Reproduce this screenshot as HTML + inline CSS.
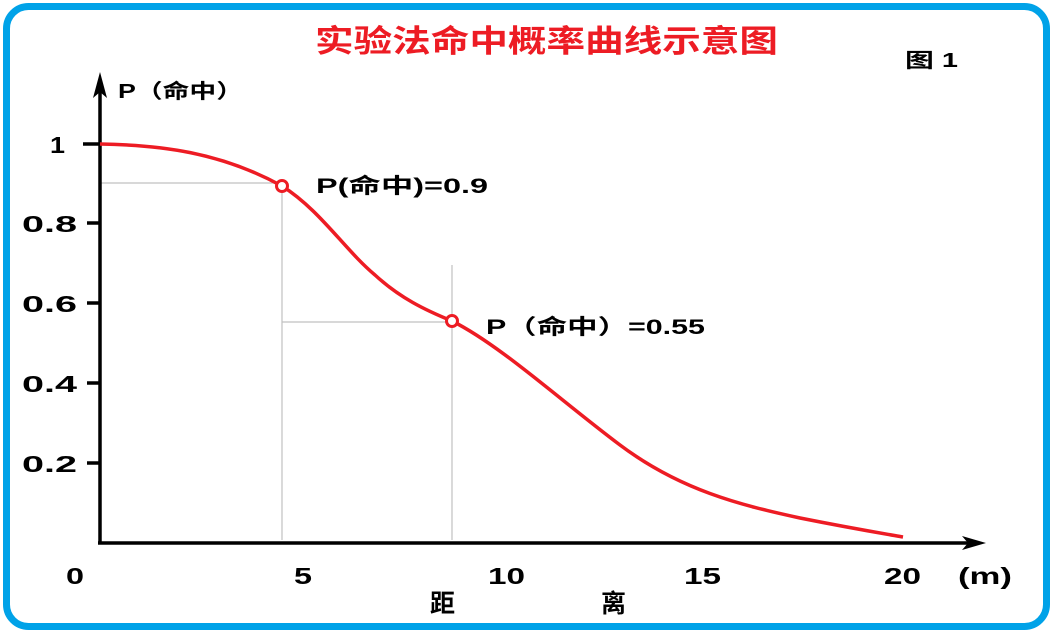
<!DOCTYPE html>
<html><head><meta charset="utf-8"><style>
html,body{margin:0;padding:0;background:#fff;}
</style></head><body>
<svg width="1053" height="633" xmlns="http://www.w3.org/2000/svg" style="display:block">
<rect x="6.5" y="6.5" width="1040" height="620" rx="22" fill="#fff" stroke="#00a2e8" stroke-width="7"/>
<g font-family="'Liberation Sans','Noto Sans CJK SC',sans-serif" font-weight="bold">
<text x="315" y="52" font-size="31" fill="#ed1c24" textLength="463" lengthAdjust="spacingAndGlyphs">实验法命中概率曲线示意图</text>
<text x="905" y="67" font-size="20" fill="#000" textLength="53" lengthAdjust="spacingAndGlyphs">图 1</text>
<text x="118" y="98" font-size="20" fill="#000" textLength="125" lengthAdjust="spacingAndGlyphs">P（命中）</text>
<text x="316" y="193" font-size="21" fill="#000" textLength="172" lengthAdjust="spacingAndGlyphs">P(命中)=0.9</text>
<text x="486" y="334" font-size="21" fill="#000" textLength="219" lengthAdjust="spacingAndGlyphs">P（命中）=0.55</text>
<g font-size="23" fill="#000">
<text x="50" y="153" textLength="15" lengthAdjust="spacingAndGlyphs">1</text>
<text x="22" y="232" textLength="55" lengthAdjust="spacingAndGlyphs">0.8</text>
<text x="22" y="312" textLength="55" lengthAdjust="spacingAndGlyphs">0.6</text>
<text x="22" y="392" textLength="55" lengthAdjust="spacingAndGlyphs">0.4</text>
<text x="22" y="472" textLength="55" lengthAdjust="spacingAndGlyphs">0.2</text>
</g>
<g font-size="23" fill="#000">
<text x="66" y="584" textLength="18" lengthAdjust="spacingAndGlyphs">0</text>
<text x="294" y="584" textLength="18" lengthAdjust="spacingAndGlyphs">5</text>
<text x="488" y="584" textLength="37" lengthAdjust="spacingAndGlyphs">10</text>
<text x="684" y="584" textLength="37" lengthAdjust="spacingAndGlyphs">15</text>
<text x="884" y="584" textLength="37" lengthAdjust="spacingAndGlyphs">20</text>
<text x="958" y="584" textLength="54" lengthAdjust="spacingAndGlyphs">(m)</text>
<text x="430" y="612" font-size="25">距</text>
<text x="601" y="612" font-size="25">离</text>
</g>
</g>
<g stroke="#c0c0c0" stroke-width="1.2" fill="none">
<line x1="100" y1="183" x2="282" y2="183"/>
<line x1="282" y1="183" x2="282" y2="540"/>
<line x1="282" y1="322" x2="452" y2="322"/>
<line x1="452" y1="265" x2="452" y2="540"/>
</g>
<g stroke="#000" stroke-width="3.5" fill="none">
<line x1="100" y1="85" x2="100" y2="544"/>
<line x1="98" y1="543" x2="975" y2="543"/>
<line x1="83" y1="144" x2="100" y2="144"/>
<line x1="87" y1="223" x2="100" y2="223"/>
<line x1="87" y1="303" x2="100" y2="303"/>
<line x1="87" y1="383" x2="100" y2="383"/>
<line x1="87" y1="463" x2="100" y2="463"/>
</g>
<polygon points="100,72 93,98 100,92 107,98" fill="#000"/>
<polygon points="986,543 962,536 968,543 962,550" fill="#000"/>
<path d="M100,144 C160,145 220,152 282,186 C320,210 345,250 375,275 C400,298 425,310 452,321 C500,345 560,400 620,445 C680,490 740,505 800,518 C850,528 880,533 903,537" stroke="#ed1c24" stroke-width="3.5" fill="none"/>
<circle cx="282" cy="186" r="5.5" fill="#fff" stroke="#ed1c24" stroke-width="3"/>
<circle cx="452" cy="321" r="5.5" fill="#fff" stroke="#ed1c24" stroke-width="3"/>
</svg>
</body></html>
